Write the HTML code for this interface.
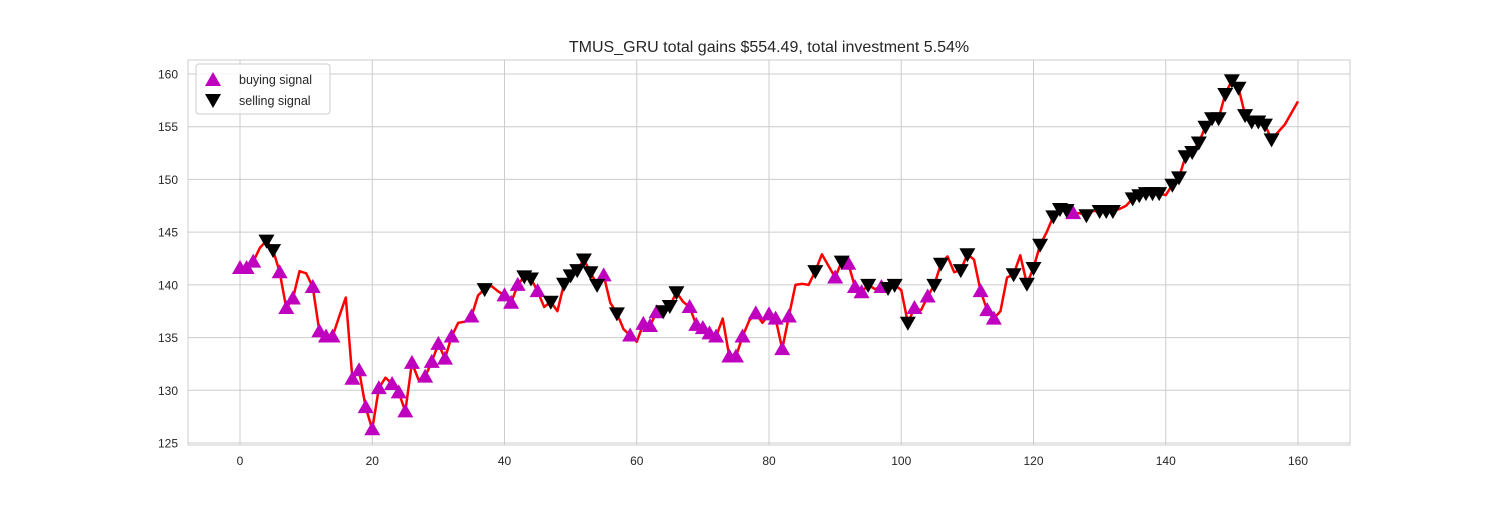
<!DOCTYPE html>
<html><head><meta charset="utf-8"><style>
body{margin:0;background:#fff;font-family:"Liberation Sans",sans-serif}
svg text{font-family:"Liberation Sans",sans-serif;fill:#262626}
</style></head><body>
<svg id="chart" width="1500" height="500">
<rect width="1500" height="500" fill="#fff"/>
<g id="grid"></g>
<rect x="188" y="60" width="1162" height="385" fill="none" stroke="#ccc" stroke-width="1"/>
<g id="marks"></g>
<text x="769" y="52" text-anchor="middle" font-size="16">TMUS_GRU total gains $554.49, total investment 5.54%</text>
<g>
<rect x="196" y="64" width="134" height="50" rx="3" fill="#fff" stroke="#ccc" fill-opacity="0.8"/>
<polygon points="213,72 221,86 205,86" fill="#bf00bf"/>
<text x="239" y="84" font-size="12.5">buying signal</text>
<polygon points="205,94 221,94 213,108" fill="#000"/>
<text x="239" y="105" font-size="12.5">selling signal</text>
</g>
</svg>
<script>
const prices=[141.6,141.6,142.2,143.5,144.2,143.3,141.2,137.8,138.7,141.3,141.1,139.8,135.6,135.1,135.1,137.0,138.8,131.1,131.9,128.4,
126.3,130.2,131.2,130.6,129.8,128.0,132.6,131.0,131.3,132.7,134.4,133.0,135.1,136.4,136.5,137.0,139.0,139.6,139.9,139.4,
139.0,138.3,140.0,140.8,140.6,139.4,137.9,138.4,137.5,140.1,140.9,141.4,142.4,141.2,140.0,140.9,138.3,137.3,135.8,135.2,
134.6,136.3,136.1,137.4,137.5,138.0,139.3,138.4,137.9,136.2,135.9,135.4,135.1,136.8,133.2,133.2,135.1,136.6,137.3,136.4,
137.2,136.8,133.9,137.0,140.0,140.1,140.0,141.3,142.9,141.8,140.7,142.2,142.0,139.8,139.3,140.0,139.6,139.8,139.7,140.0,
139.5,136.4,137.8,137.6,138.9,140.0,142.0,142.7,141.2,141.4,142.9,142.4,139.4,137.6,136.8,137.5,140.7,141.0,142.8,140.1,
141.6,143.8,145.0,146.5,147.2,147.1,146.8,146.8,146.6,147.0,147.0,147.0,147.0,147.2,147.5,148.2,148.5,148.7,148.7,148.7,
148.5,149.5,150.2,152.2,152.6,153.5,155.0,155.8,155.8,158.1,159.4,158.7,156.1,155.5,155.5,155.2,153.8,154.5,155.2,156.3,157.4];
const buys=[0,1,2,6,7,8,11,12,13,14,17,18,19,20,21,23,24,25,26,28,29,30,31,32,35,40,41,42,45,55,59,61,62,63,68,69,70,71,72,74,75,76,78,80,81,82,83,90,92,93,94,97,102,104,112,113,114,126];
const sells=[4,5,37,43,44,47,49,50,51,52,53,54,57,64,65,66,87,91,95,98,99,101,105,106,109,110,117,119,120,121,123,124,125,128,130,131,132,135,136,137,138,139,141,142,143,144,145,146,147,148,149,150,151,152,153,154,155,156];
const xTicks=[0,20,40,60,80,100,120,140,160];
const yTicks=[125,130,135,140,145,150,155,160];
const X=v=>240+v*6.6125, Y=v=>443-(v-125)*10.543;
const NS="http://www.w3.org/2000/svg";
const grid=document.getElementById('grid'),marks=document.getElementById('marks'),svg=document.getElementById('chart');
function mk(tag,at,p){const e=document.createElementNS(NS,tag);for(const k in at)e.setAttribute(k,at[k]);p.appendChild(e);return e;}
xTicks.forEach(t=>{
 const l=mk('line',{x1:X(t),x2:X(t),y1:60,y2:445,stroke:'#ccc'},grid);
 
 
 const tx=mk('text',{x:X(t),y:465,'text-anchor':'middle','font-size':12},svg);tx.textContent=t;
 
 
});
yTicks.forEach(t=>{
 const l=mk('line',{x1:188,x2:1350,y1:Y(t),y2:Y(t),stroke:'#ccc'},grid);
 
 
 const tx=mk('text',{x:178,y:Y(t)+4.5,'text-anchor':'end','font-size':12},svg);tx.textContent=t;
 
 
});
const line=mk('polyline',{points:prices.map((p,i)=>X(i)+','+Y(p)).join(' '),fill:'none',stroke:'#ff0000','stroke-width':2.5,'stroke-linejoin':'round'},marks);


buys.forEach(i=>{const x=X(i),y=Y(prices[i]);
 const p=mk('polygon',{points:`${x},${y-8} ${x+8},${y+6} ${x-8},${y+6}`,fill:'#bf00bf'},marks);
 
 
});
sells.forEach(i=>{const x=X(i),y=Y(prices[i]);
 const p=mk('polygon',{points:`${x-8},${y-6} ${x+8},${y-6} ${x},${y+8}`,fill:'#000'},marks);
 
 
});
</script>
</body></html>
